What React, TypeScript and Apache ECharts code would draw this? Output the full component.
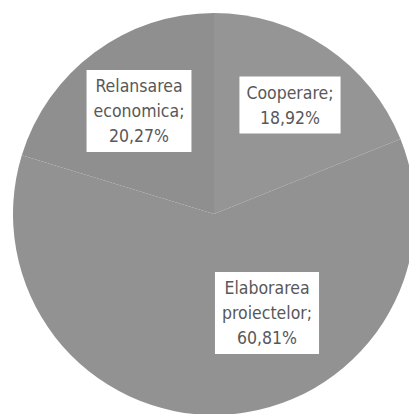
import React, { useEffect, useRef } from "react";
import * as echarts from "echarts";

const categories = ["Cooperare", "Elaborarea proiectelor", "Relansarea economica"];
const values = [18.92, 60.81, 20.27];
const sliceColors = ["#959595", "#929292", "#8f8f8f"];
const labelPositions: [number, number][] = [
  [290, 105],
  [267, 313],
  [139, 111],
];

export default function App() {
  const ref = useRef<HTMLDivElement>(null);
  useEffect(() => {
    if (!ref.current) return;
    const chart = echarts.init(ref.current, undefined, { renderer: "svg" });
    chart.setOption({
      animation: false,
      backgroundColor: "#ffffff",
      series: [
        {
          type: "pie",
          center: [214, 214],
          radius: 201,
          startAngle: 90,
          clockwise: true,
          percentPrecision: 2,
          data: categories.map((name, i) => ({
            name,
            value: values[i],
            itemStyle: { color: sliceColors[i] },
          })),
          itemStyle: { borderWidth: 0 },
          emphasis: { disabled: true },
          label: {
            show: true,
            position: "inside",
            formatter: (p: any) =>
              `${p.name.replace(" ", "\n")};\n${p.percent.toFixed(2).replace(".", ",")}%`,
            fontFamily: "'DejaVu Sans Condensed', 'DejaVu Sans', sans-serif",
            fontSize: 17.5,
            lineHeight: 25,
            color: "#585858",
            backgroundColor: "#ffffff",
            padding: [4, 7, 3, 7],
            align: "center",
          },
          labelLine: { show: false },
          labelLayout: (params: any) => ({
            x: labelPositions[params.dataIndex][0],
            y: labelPositions[params.dataIndex][1],
            align: "center",
            verticalAlign: "middle",
          }),
        },
      ],
    });
    return () => chart.dispose();
  }, []);
  return (
    <div
      ref={ref}
      style={{ position: "absolute", left: 0, top: 0, width: 409, height: 414 }}
    />
  );
}
